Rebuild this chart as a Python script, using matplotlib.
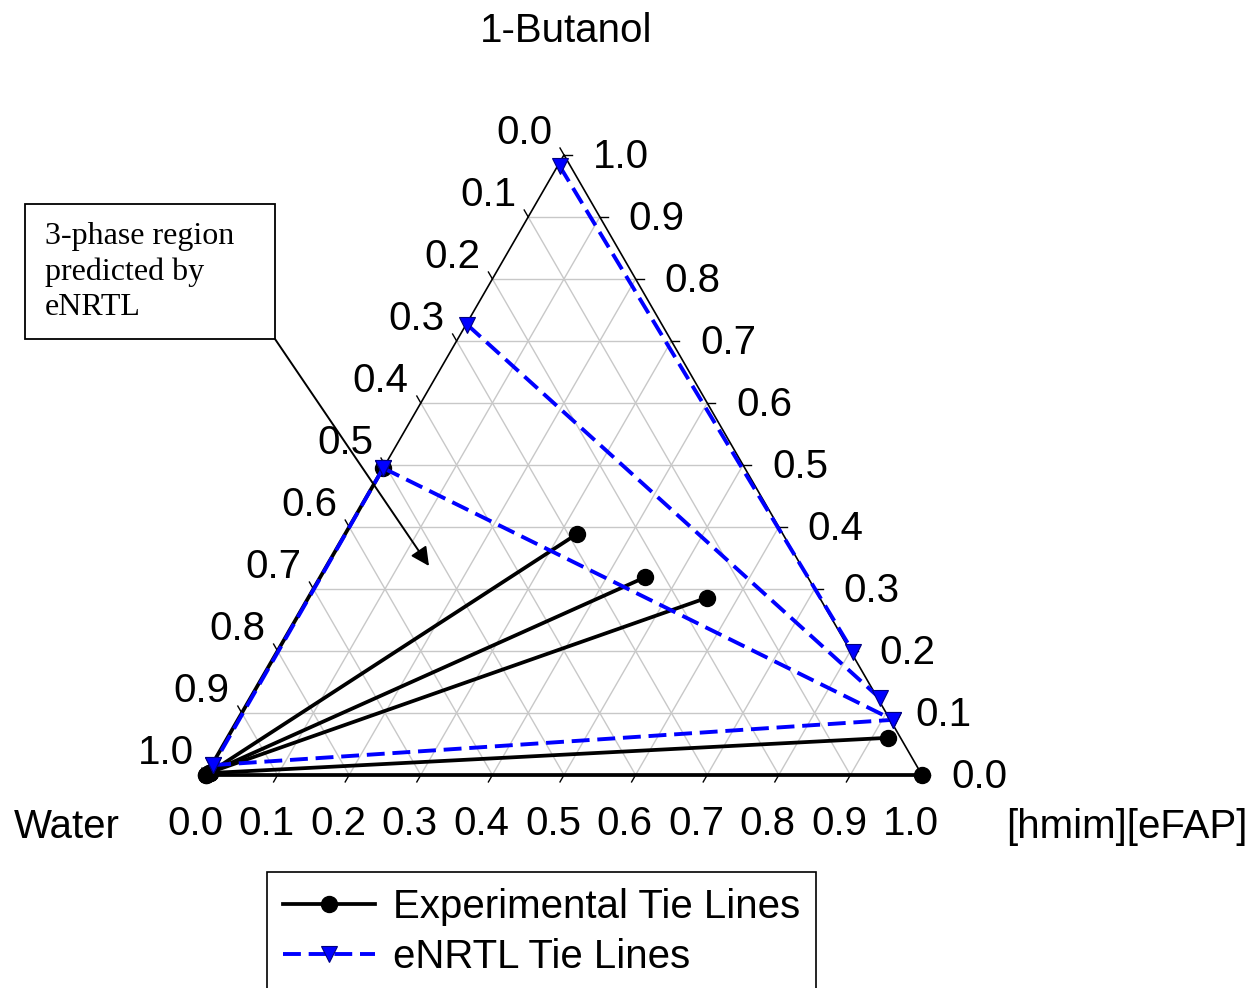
import numpy as np
import matplotlib
matplotlib.use('Agg')
from matplotlib import pyplot as plt

plt.rcParams['font.family'] = ['Liberation Sans', 'DejaVu Sans']

## tie line end points as mass fractions ([hmim][eFAP], 1-Butanol)
# experimental: aqueous (water rich) phase and IL rich phase
exp_aq_il = [0.003, 0.003, 0.003, 0.002, 0.0, 0.0]
exp_aq_but = [0.004, 0.004, 0.004, 0.003, 0.0, 0.0]
exp_org_il = [0.324, 0.454, 0.557, 0.923, 1.0, 0.0]
exp_org_but = [0.389, 0.319, 0.286, 0.060, 0.0, 0.495]

# eNRTL predicted tie lines
nrtl_a_il = [0.003, 0.002, 0.0, 0.002, 0.0]
nrtl_a_but = [0.982, 0.726, 0.495, 0.016, 0.495]
nrtl_b_il = [0.805, 0.879, 0.915, 0.915, 0.002]
nrtl_b_but = [0.198, 0.124, 0.089, 0.089, 0.016]

tick_vals = [i / 10 for i in range(11)]
tick_labels = ['%.1f' % v for v in tick_vals]

h = np.sqrt(3) / 2

def tern(il, but):
    # ternary composition -> cartesian (water corner at origin)
    il = np.asarray(il, dtype=float)
    but = np.asarray(but, dtype=float)
    return il + but / 2, but * h

## figure set up so that 1 unit = 716 px, water corner at pixel (206, 775)
S = 716.0
x0, y0 = 206.0, 775.0
W, H = 1253, 988
fig = plt.figure(figsize=(W / 100, H / 100), dpi=100)
ax = fig.add_axes([0, 0, 1, 1])
ax.set_xlim(-x0 / S, (W - x0) / S)
ax.set_ylim(-(H - y0) / S, y0 / S)
ax.axis('off')

def px(x, y):
    return (x - x0) / S, (y0 - y) / S

FS = 29

## grid lines
grid_c = '#c8c8c8'
for v in tick_vals[1:-1]:
    # constant butanol
    a = tern([0, 1 - v], [v, v])
    ax.plot(a[0], a[1], color=grid_c, lw=1, zorder=1)
    # constant IL
    a = tern([v, v], [0, 1 - v])
    ax.plot(a[0], a[1], color=grid_c, lw=1, zorder=1)
    # constant water
    a = tern([0, 1 - v], [1 - v, 0])
    ax.plot(a[0], a[1], color=grid_c, lw=1, zorder=1)

## triangle outline
edge = tern([0, 1, 0, 0], [0, 0, 1, 0])
ax.plot(edge[0], edge[1], color='k', lw=1.2, zorder=2)

## ticks and tick labels
L = 8 / S
for v, lab in zip(tick_vals, tick_labels):
    # bottom axis ([hmim][eFAP])
    bx, by = tern(v, 0)
    ax.plot([bx, bx - 0.5 * L], [by, by - h * L], color='k', lw=1, zorder=2)
    ax.text(bx - 11 / S, by - 49 / S, lab, ha='center', va='center', fontsize=FS)
    # left axis (water, 0 at top)
    lx, ly = tern(0, 1 - v)
    ax.plot([lx, lx - 0.5 * L], [ly, ly + h * L], color='k', lw=1, zorder=2)
    ax.text(lx - 40 / S, ly + 22 / S, lab, ha='center', va='center', fontsize=FS)
    # right axis (butanol)
    rx, ry = tern(1 - v, v)
    ax.plot([rx, rx + L], [ry, ry], color='k', lw=1, zorder=2)
    ax.text(rx + 57 / S, ry - 2 / S, lab, ha='center', va='center', fontsize=FS)

## corner names
ax.text(*px(566, 31), '1-Butanol', ha='center', va='center', fontsize=FS)
ax.text(*px(67, 827), 'Water', ha='center', va='center', fontsize=FS)
ax.text(*px(1127, 827), '[hmim][eFAP]', ha='center', va='center', fontsize=FS)

## experimental tie lines
for i in range(len(exp_org_il)):
    xs, ys = tern([exp_aq_il[i], exp_org_il[i]], [exp_aq_but[i], exp_org_but[i]])
    l1, = ax.plot(xs, ys, color='k', lw=2.7, marker='o', ms=11.5, zorder=3)

## eNRTL tie lines
for i in range(len(nrtl_a_il)):
    xs, ys = tern([nrtl_a_il[i], nrtl_b_il[i]], [nrtl_a_but[i], nrtl_b_but[i]])
    l2, = ax.plot(xs, ys, color='#0000ff', lw=2.8, ls=(0, (4.6, 2.0)),
                  marker='v', ms=12, mfc='#0000ff', mec='#000080', mew=0.8, zorder=4)

## annotation box with arrow
bx0, by0 = px(25, 339)
bx1, by1 = px(275, 204)
ax.add_patch(plt.Rectangle((bx0, by0), bx1 - bx0, by1 - by0, fill=False,
                           edgecolor='k', lw=1.3, zorder=5))
ax.text(*px(45, 272), '3-phase region\npredicted by\neNRTL', ha='left', va='center',
        fontsize=23, family='Liberation Serif', linespacing=1.3, zorder=5)
ax.annotate('', xy=px(429, 566), xytext=px(275, 339),
            arrowprops=dict(arrowstyle='-|>', color='k', lw=1.4, mutation_scale=28,
                            shrinkA=0, shrinkB=0), zorder=5)

## legend
leg = ax.legend([l1, l2], ['Experimental Tie Lines', 'eNRTL Tie Lines'],
                loc='upper left', bbox_to_anchor=(267 / W, 1 - 872 / H),
                bbox_transform=fig.transFigure, borderaxespad=0, fontsize=FS,
                handlelength=2.28, handletextpad=0.45, labelspacing=0.3,
                borderpad=0.4, fancybox=False, framealpha=1, edgecolor='k')
leg.get_frame().set_linewidth(1.2)

plt.savefig('out.png', dpi=100)
